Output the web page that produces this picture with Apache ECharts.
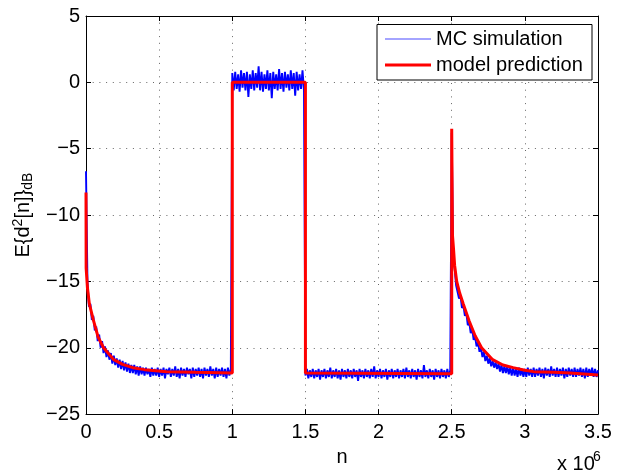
<!DOCTYPE html>
<html>
<head>
<meta charset="utf-8">
<script src="https://cdn.jsdelivr.net/npm/echarts@6/dist/echarts.min.js"></script>
<style>html,body{margin:0;padding:0;background:#fff}#c{width:625px;height:472px}</style>
</head>
<body>
<div id="c"></div>
<script>
// x axis in units of 10^6 samples
var xTicks = [0, 0.5, 1, 1.5, 2, 2.5, 3, 3.5];
var yTicks = [-25, -20, -15, -10, -5, 0, 5];

// model prediction (red)
var modelN = [0, 0.001, 0.01, 0.023, 0.05, 0.083, 0.12, 0.19, 0.25, 0.32, 0.4, 0.55, 0.75, 1.0,
  1.0, 1.5, 1.5, 2.5, 2.5, 2.505, 2.512, 2.52, 2.534, 2.555, 2.579, 2.62, 2.66, 2.704, 2.78, 2.85,
  2.92, 3.0, 3.06, 3.2, 3.31, 3.32, 3.5];
var modelV = [-8.3, -14.0, -15.5, -16.7, -17.9, -19.2, -20.0, -20.9, -21.25, -21.5, -21.65, -21.8, -21.85, -21.9,
  0, 0, -21.9, -21.95, -3.5, -11.5, -12.5, -13.8, -15.0, -15.9, -16.7, -18.0, -19.1, -20.0, -20.9, -21.3,
  -21.5, -21.7, -21.8, -21.85, -21.9, -22.0, -22.05];

// MC simulation (blue), sampled every 0.01 x 10^6 starting at 0
var blueStep = 0.01;
var mcSeg1 = [-6.7,-15.0,-16.9,-16.7,-17.9,-17.6,-18.7,-18.4,-19.5,-19.0,
-20.0,-19.5,-20.4,-19.9,-20.7,-20.2,-20.9,-20.4,-21.2,-20.6,
-21.3,-20.8,-21.5,-20.9,-21.6,-21.0,-21.7,-21.1,-21.8,-21.2,
-21.9,-21.3,-21.9,-21.3,-22.0,-21.4,-22.1,-21.4,-22.0,-21.5,
-22.1,-21.5,-22.0,-21.6,-22.2,-21.5,-22.1,-21.6,-22.1,-21.5,
-22.2,-21.6,-22.1,-21.5,-22.3,-21.6,-22.0,-21.5,-22.2,-21.6,
-22.1,-21.4,-22.2,-21.6,-22.3,-21.5,-22.1,-21.6,-22.2,-21.5,
-22.0,-21.6,-22.3,-21.5,-22.2,-21.6,-22.1,-21.5,-22.2,-21.6,
-22.3,-21.5,-22.1,-21.6,-22.2,-21.4,-22.1,-21.6,-22.3,-21.5,
-22.2,-21.6,-22.1,-21.5,-22.2,-21.6,-22.3,-21.5,-22.1,-21.6];
var mcSeg2 = [0.7,-0.6,0.8,-0.5,0.6,-0.7,0.9,-0.4,0.7,-0.6,
0.8,-1.1,0.6,-0.5,0.9,-0.6,0.7,-0.4,1.2,-0.6,
0.8,-0.7,0.6,-0.5,0.9,-0.6,0.7,-1.2,0.8,-0.5,
0.6,-0.6,1.0,-0.5,0.7,-0.7,0.8,-0.4,0.6,-0.6,
0.9,-0.5,0.7,-1.0,0.8,-0.6,0.6,-0.5,0.9,-0.6];
var mcSeg3 = [-22.1,-21.6,-22.3,-21.7,-22.2,-21.6,-22.3,-21.7,-22.2,-21.6,
-22.4,-21.7,-22.2,-21.6,-22.3,-21.7,-22.2,-21.5,-22.3,-21.7,
-22.2,-21.6,-22.3,-21.7,-22.4,-21.6,-22.2,-21.7,-22.3,-21.6,
-22.2,-21.7,-22.3,-21.6,-22.2,-21.7,-22.5,-21.6,-22.2,-21.7,
-22.3,-21.6,-22.2,-21.7,-22.3,-21.6,-22.2,-21.4,-22.3,-21.7,
-22.2,-21.6,-22.3,-21.7,-22.2,-21.6,-22.4,-21.7,-22.2,-21.6,
-22.3,-21.7,-22.2,-21.6,-22.3,-21.7,-22.2,-21.6,-22.3,-21.5,
-22.2,-21.7,-22.3,-21.6,-22.2,-21.7,-22.4,-21.6,-22.2,-21.7,
-22.3,-21.3,-22.2,-21.7,-22.3,-21.6,-22.2,-21.7,-22.4,-21.6,
-22.2,-21.7,-22.3,-21.6,-22.2,-21.7,-22.3,-21.6,-22.2,-21.7];
var mcSeg4 = [-3.8,-13.2,-14.0,-15.3,-15.3,-16.3,-16.1,-17.0,-16.8,-17.6,
-17.4,-18.3,-18.1,-18.9,-18.6,-19.4,-19.2,-19.9,-19.6,-20.3,
-20.0,-20.7,-20.3,-21.0,-20.6,-21.2,-20.8,-21.4,-21.0,-21.5,
-21.1,-21.6,-21.2,-21.8,-21.3,-21.9,-21.4,-21.9,-21.4,-22.0,
-21.5,-22.1,-21.5,-22.1,-21.6,-22.2,-21.5,-22.1,-21.6,-22.2];
var mcSeg5 = [-21.6,-22.2,-21.5,-22.1,-21.6,-22.2,-21.5,-22.2,-21.6,-22.1,
-21.5,-22.2,-21.6,-22.3,-21.5,-22.1,-21.6,-22.2,-21.4,-22.1,
-21.6,-22.2,-21.5,-22.2,-21.6,-22.1,-21.5,-22.3,-21.6,-22.2,
-21.5,-22.1,-21.6,-22.2,-21.5,-22.2,-21.6,-22.1,-21.5,-22.2,
-21.6,-22.3,-21.5,-22.2,-21.6,-22.1,-21.5,-22.2,-21.6,-22.2,-21.7];

var mcValues = mcSeg1.concat(mcSeg2, mcSeg3, mcSeg4, mcSeg5);
var mcData = mcValues.map(function (v, i) { return [+(i * blueStep).toFixed(2), v]; });
var modelData = modelN.map(function (n, i) { return [n, modelV[i]]; });

var FONT = 'Liberation Sans, Arial, Helvetica, sans-serif';
function minus(v) { return String(v).replace('-', '\u2212'); }

var chart = echarts.init(document.getElementById('c'), null, { renderer: 'canvas' });
var axisLine = { onZero: false, lineStyle: { color: '#000', width: 1 } };
var tick = { inside: true, length: 5, lineStyle: { color: '#000', width: 1 } };
var grid = { show: true, lineStyle: { color: '#666', width: 1, type: [1, 5.7] } };

chart.setOption({
  animation: false,
  backgroundColor: '#fff',
  textStyle: { fontFamily: FONT },
  grid: { left: 86, right: 27, top: 16, bottom: 54 },
  xAxis: [
    { type: 'value', min: xTicks[0], max: xTicks[xTicks.length - 1], interval: 0.5, position: 'bottom',
      axisLine: axisLine, axisTick: tick, splitLine: grid,
      axisLabel: { color: '#000', fontSize: 20, margin: 8, fontFamily: FONT, formatter: function (v) { return minus(v); } },
      name: 'n', nameLocation: 'middle', nameGap: 27, nameTextStyle: { color: '#000', fontSize: 20, fontFamily: FONT } },
    { type: 'value', min: xTicks[0], max: xTicks[xTicks.length - 1], interval: 0.5, position: 'top',
      axisLine: axisLine, axisTick: tick, splitLine: { show: false }, axisLabel: { show: false } }
  ],
  yAxis: [
    { type: 'value', min: yTicks[0], max: yTicks[yTicks.length - 1], interval: 5, position: 'left',
      axisLine: axisLine, axisTick: tick, splitLine: grid,
      axisLabel: { color: '#000', fontSize: 20, margin: 6, fontFamily: FONT, formatter: function (v) { return minus(v); } },
      name: 'E{d{sup|2}[n]}{sub|dB}', nameLocation: 'middle', nameGap: 50, nameRotate: 90,
      nameTextStyle: { color: '#000', fontSize: 20, fontFamily: FONT, lineHeight: 24,
        rich: {
          sup: { fontSize: 14, fontFamily: FONT, color: '#000', verticalAlign: 'top', lineHeight: 14 },
          sub: { fontSize: 14, fontFamily: FONT, color: '#000', verticalAlign: 'bottom', lineHeight: 14 }
        } } },
    { type: 'value', min: yTicks[0], max: yTicks[yTicks.length - 1], interval: 5, position: 'right',
      axisLine: axisLine, axisTick: tick, splitLine: { show: false }, axisLabel: { show: false } }
  ],
  graphic: [
    { type: 'rect', z: 3, shape: { x: 377, y: 24.5, width: 215, height: 55.5 },
      style: { fill: '#fff', stroke: '#000', lineWidth: 1 } },
    { type: 'text', z: 5, x: 557, y: 464,
      style: { text: 'x 10', font: '20px ' + FONT, fill: '#000', verticalAlign: 'middle', align: 'left' } },
    { type: 'text', z: 5, x: 593, y: 457,
      style: { text: '6', font: '14px ' + FONT, fill: '#000', verticalAlign: 'middle', align: 'left' } }
  ],
  legend: [
    { data: [{ name: 'MC simulation', icon: 'rect', itemStyle: { color: '#4a4aff' } }],
      left: 385, top: 29, padding: 0, itemWidth: 46, itemHeight: 1, z: 6, selectedMode: false,
      textStyle: { color: '#000', fontSize: 20, fontFamily: FONT } },
    { data: [{ name: 'model prediction', icon: 'rect', itemStyle: { color: '#ff0000' } }],
      left: 385, top: 55, padding: 0, itemWidth: 46, itemHeight: 3, z: 6, selectedMode: false,
      textStyle: { color: '#000', fontSize: 20, fontFamily: FONT } }
  ],
  series: [
    { name: 'MC simulation', type: 'line', xAxisIndex: 0, yAxisIndex: 0, data: mcData,
      showSymbol: false, symbol: 'none', silent: true, z: 2,
      lineStyle: { color: '#0000ff', width: 1.9, join: 'bevel' }, itemStyle: { color: '#0000ff' } },
    { name: 'model prediction', type: 'line', xAxisIndex: 0, yAxisIndex: 0, data: modelData,
      showSymbol: false, symbol: 'none', silent: true, z: 3,
      lineStyle: { color: '#ff0000', width: 3 }, itemStyle: { color: '#ff0000' } }
  ]
});
</script>
</body>
</html>
